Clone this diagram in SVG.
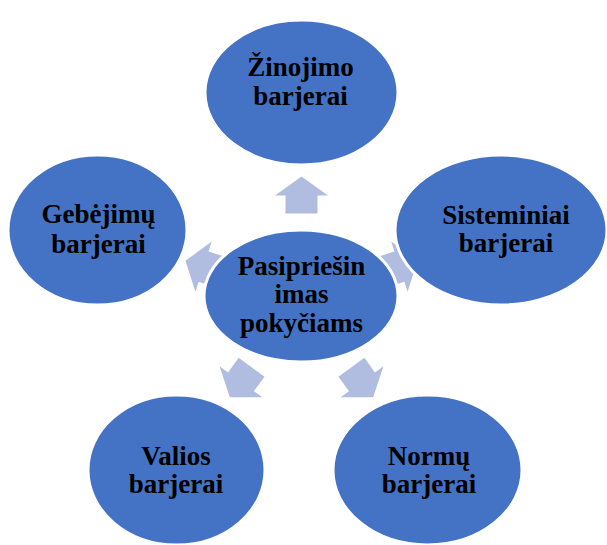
<svg xmlns="http://www.w3.org/2000/svg" width="607" height="545" viewBox="0 0 607 545">
  <defs>
    <style>
      .node { fill: #4472C4; stroke: #FFFFFF; stroke-width: 3; }
      .lbl { font-family: "Liberation Serif", "Times New Roman", serif; font-weight: bold; font-size: 27px; fill: #000000; text-anchor: middle; }
      .arrow { fill: #B1BDE0; }
    </style>
    <!-- block arrow pointing up, centred on the origin -->
    <polygon id="blockArrow" class="arrow" points="0,-18.5 26.5,0.5 16,0.5 16,18.5 -16,18.5 -16,0.5 -26.5,0.5"/>
  </defs>
  <rect width="607" height="545" fill="#FFFFFF"/>

  <g id="connectors">
    <use href="#blockArrow" transform="translate(301.5,195)"/>
    <use href="#blockArrow" transform="translate(399.9,266.5) rotate(72)"/>
    <use href="#blockArrow" transform="translate(362.3,382.2) rotate(144)"/>
    <use href="#blockArrow" transform="translate(240.7,382.2) rotate(216)"/>
    <use href="#blockArrow" transform="translate(203.1,266.5) rotate(288)"/>
  </g>

  <g id="node-zinojimo">
    <ellipse class="node" cx="301.5" cy="92.5" rx="96.5" ry="72.5"/>
    <text class="lbl" x="300.5" y="76">Žinojimo</text>
    <text class="lbl" x="300.5" y="104.5">barjerai</text>
  </g>

  <g id="node-sisteminiai">
    <ellipse class="node" cx="501" cy="230" rx="106" ry="75"/>
    <text class="lbl" x="506" y="224">Sisteminiai</text>
    <text class="lbl" x="506" y="252">barjerai</text>
  </g>

  <g id="node-normu">
    <ellipse class="node" cx="427.5" cy="470" rx="94.5" ry="75"/>
    <text class="lbl" x="429" y="465">Normų</text>
    <text class="lbl" x="429" y="493">barjerai</text>
  </g>

  <g id="node-valios">
    <ellipse class="node" cx="176.5" cy="470" rx="88.5" ry="75"/>
    <text class="lbl" x="176" y="465">Valios</text>
    <text class="lbl" x="176" y="493">barjerai</text>
  </g>

  <g id="node-gebejimu">
    <ellipse class="node" cx="97.5" cy="230" rx="89.5" ry="75"/>
    <text class="lbl" x="98.5" y="223">Gebėjimų</text>
    <text class="lbl" x="98.5" y="253">barjerai</text>
  </g>

  <g id="node-center">
    <ellipse class="node" cx="301" cy="296" rx="97" ry="66"/>
    <text class="lbl" x="301.5" y="275">Pasipriešin</text>
    <text class="lbl" x="301.5" y="303">imas</text>
    <text class="lbl" x="301.5" y="332">pokyčiams</text>
  </g>
</svg>
